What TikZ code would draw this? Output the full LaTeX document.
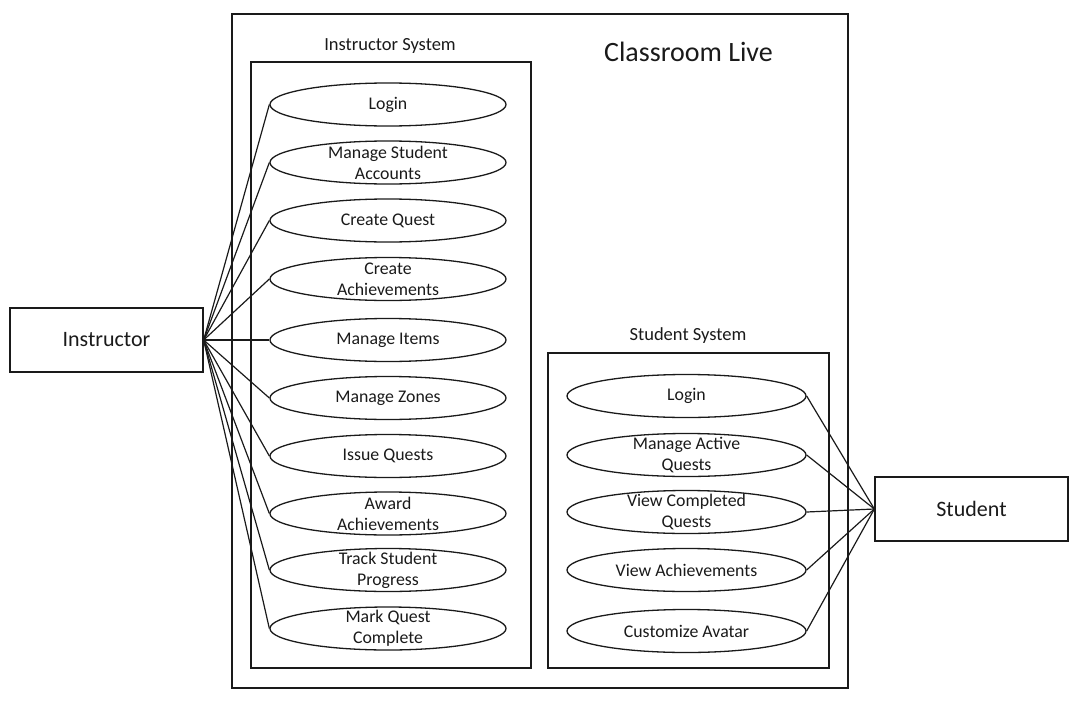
\documentclass[tikz,border=0pt]{standalone}
\usepackage{fontspec}
\setmainfont{Carlito}
\usepackage{tikz}
\usepackage{xcolor}
\usetikzlibrary{shapes}
\definecolor{ink}{HTML}{1A1A1A}

\begin{document}
\begin{tikzpicture}[x=1pt,y=-1pt]
\tikzstyle{usecase}=[draw=ink,ellipse,line width=1.3pt,inner sep=0pt,minimum width=236pt,minimum height=43pt]
\tikzstyle{uctext}=[text=ink,align=center,inner sep=0pt,font=\fontsize{17.8}{21}\selectfont]
\tikzstyle{actor}=[draw=ink,rectangle,line width=1.3pt,minimum width=193pt,minimum height=64pt,text=ink,font=\fontsize{22}{25}\selectfont]
\tikzstyle{sysbox}=[draw=ink,rectangle,line width=1.3pt,inner sep=0pt]
\tikzstyle{systitle}=[text=ink,inner sep=0pt,font=\fontsize{18.5}{21}\selectfont]
\tikzstyle{link}=[draw=ink,line width=1.2pt]
\useasboundingbox (0,0) rectangle (1082,704);
% boundaries
\node[sysbox,minimum width=616pt,minimum height=674pt] (live) at (540,351) {};
\node[text=ink,inner sep=0pt,font=\fontsize{28}{31}\selectfont] (live_title) at (688.5,52) {Classroom Live};
\node[sysbox,minimum width=280pt,minimum height=606pt] (insys) at (391,365) {};
\node[systitle] (insys_title) at (390,46) {Instructor System};
\node[sysbox,minimum width=281pt,minimum height=315pt] (stsys) at (688.5,510.5) {};
\node[systitle] (stsys_title) at (688,336) {Student System};
% actors
\node[actor] (instr) at (106.5,340) {Instructor};
\node[actor] (stud) at (971.5,509) {Student};
% instructor use cases
\node[usecase,label={[uctext]center:Login}] (i_login) at (388,104.5) {};
\node[usecase,label={[uctext]center:Manage Student\\Accounts}] (i_accounts) at (388,162.5) {};
\node[usecase,label={[uctext]center:Create Quest}] (i_quest) at (388,220.5) {};
\node[usecase,label={[uctext]center:Create\\Achievements}] (i_achieve) at (388,279) {};
\node[usecase,label={[uctext]center:Manage Items}] (i_items) at (388,340) {};
\node[usecase,label={[uctext]center:Manage Zones}] (i_zones) at (388,398) {};
\node[usecase,label={[uctext]center:Issue Quests}] (i_issue) at (388,456) {};
\node[usecase,label={[uctext]center:Award\\Achievements}] (i_award) at (388,513.5) {};
\node[usecase,label={[uctext]center:Track Student\\Progress}] (i_track) at (388,570) {};
\node[usecase,label={[uctext]center:Mark Quest\\Complete}] (i_mark) at (388,628.5) {};
% student use cases
\node[usecase,minimum width=239pt,label={[uctext]center:Login}] (s_login) at (686.5,396) {};
\node[usecase,minimum width=239pt,label={[uctext]center:Manage Active\\Quests}] (s_active) at (686.5,455) {};
\node[usecase,minimum width=239pt,label={[uctext]center:View Completed\\Quests}] (s_done) at (686.5,512) {};
\node[usecase,minimum width=239pt,label={[uctext]center:View Achievements}] (s_achieve) at (686.5,570) {};
\node[usecase,minimum width=239pt,label={[uctext]center:Customize Avatar}] (s_avatar) at (686.5,631) {};
% associations
\foreach \uc in {i_login,i_accounts,i_quest,i_achieve,i_items,i_zones,i_issue,i_award,i_track,i_mark}
  \path[link] (instr.east) -- (\uc.west);
\foreach \uc in {s_login,s_active,s_done,s_achieve,s_avatar}
  \path[link] (stud.west) -- (\uc.east);
\end{tikzpicture}
\end{document}
